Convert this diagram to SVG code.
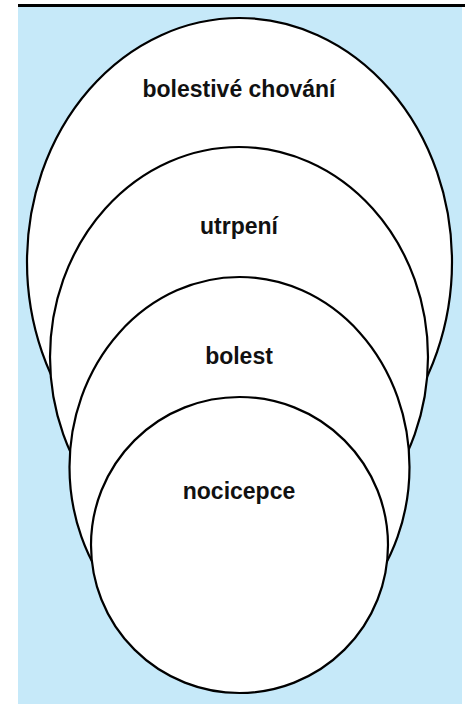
<svg xmlns="http://www.w3.org/2000/svg" width="465" height="704" viewBox="0 0 465 704">
<style>
.c{fill:#ffffff;stroke:#000000;stroke-width:2.2}
.t{font-family:"Liberation Sans",Arial,sans-serif;font-weight:bold;font-size:23px;fill:#111111;text-anchor:middle}
</style>
<rect x="0" y="0" width="465" height="704" fill="#ffffff"/>
<rect x="18" y="7" width="444" height="697" fill="#c6e9f9"/>
<line x1="18" y1="5.5" x2="465" y2="5.5" stroke="#000000" stroke-width="3"/>
<g id="n-bolestive-chovani">
<ellipse class="c" cx="239.5" cy="262" rx="212.5" ry="244"/>
</g>
<g id="n-utrpeni">
<ellipse class="c" cx="239" cy="357" rx="189" ry="210"/>
</g>
<g id="n-bolest">
<ellipse class="c" cx="239.5" cy="467" rx="170" ry="190"/>
</g>
<g id="n-nocicepce">
<ellipse class="c" cx="239.5" cy="545" rx="148.5" ry="148"/>
</g>
<g id="connectors"></g>
<g id="labels">
<text class="t" x="239" y="97">bolestivé chování</text>
<text class="t" x="239" y="234">utrpení</text>
<text class="t" x="239" y="364">bolest</text>
<text class="t" x="239" y="499">nocicepce</text>
</g>
</svg>
